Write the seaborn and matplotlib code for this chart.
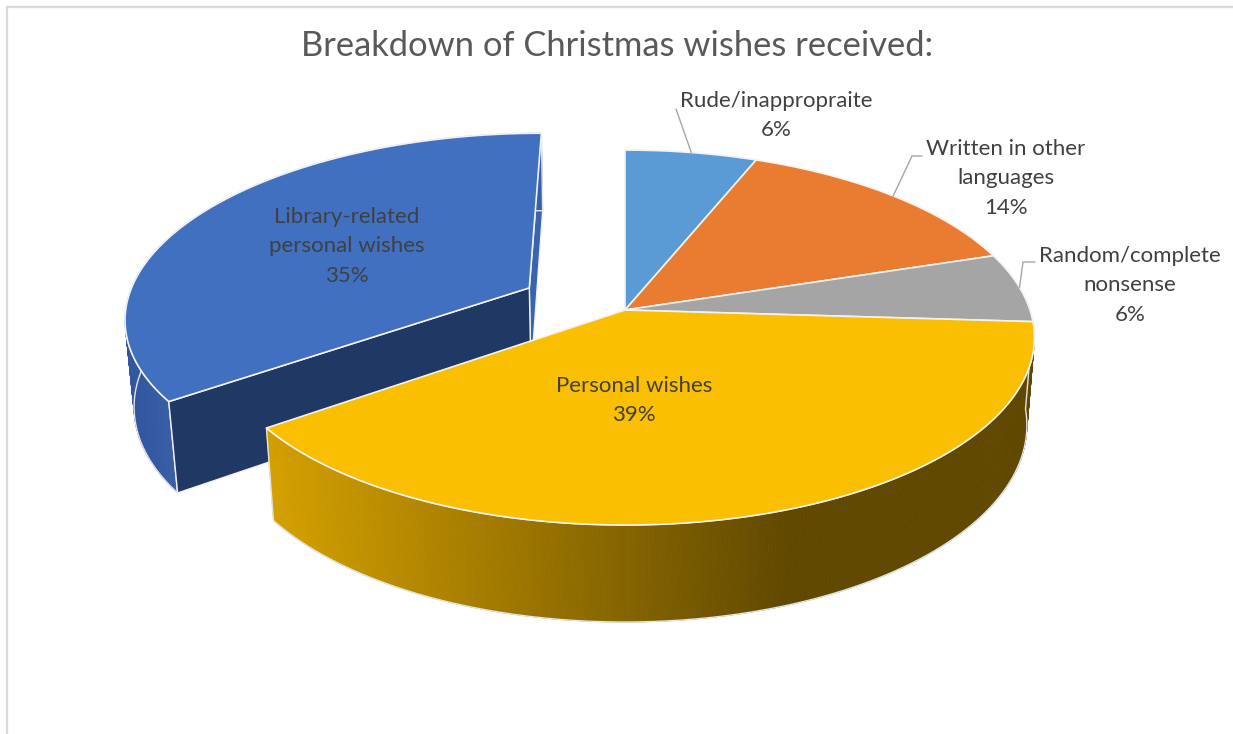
import numpy as np
import matplotlib
matplotlib.use("Agg")
import matplotlib.pyplot as plt
import seaborn as sns

# ---------------- data ----------------
title = "Breakdown of Christmas wishes received:"
categories = ["Rude/inappropraite", "Written in other languages",
              "Random/complete nonsense", "Personal wishes",
              "Library-related personal wishes"]
label_lines = [["Rude/inappropraite"], ["Written in other", "languages"],
               ["Random/complete", "nonsense"], ["Personal wishes"],
               ["Library-related", "personal wishes"]]
values = [6, 14, 6, 39, 35]
explode = [0, 0, 0, 0, 0.27]

# ---------------- style ----------------
sns.set_theme(style="white")
plt.rcParams["font.family"] = ["Lato", "DejaVu Sans"]
top_colors = sns.color_palette(["#5B9BD5", "#E97C30", "#A5A5A5", "#FABF00", "#4170C0"])
TEXT = "#404040"
EDGE = "#F2F2F2"

# label layout (pixel coords: centre x, first baseline y)
label_pos = [(776, 107), (1006, 155), (1130, 262), (634, 392), (347, 223)]
leader_elbow = [[(676, 109)], [(912, 156), (922, 156)], [(1023, 262), (1035, 262)], None, None]
LINE_H = 29.3

# ---------------- projection (3D pie seen from above, with perspective) ----------------
CX, CY = 625, 310
F, D = 2458.0, 6.07
S = 0.453
C = np.sqrt(1 - S * S)
H = 0.245


def proj(X, Y, Z):
    X = np.asarray(X, float)
    Y = np.asarray(Y, float)
    Z = np.asarray(Z, float)
    zc = D + Y * C - Z * S
    return CX + F * X / zc, CY - F * (Y * S + Z * C) / zc


def arc(ox, oy, a0, a1, z, n=240):
    t = np.deg2rad(np.linspace(a0, a1, n))
    return proj(ox + np.cos(t), oy + np.sin(t), np.full_like(t, z))


fig = plt.figure(figsize=(12.33, 7.34), dpi=100)
ax = fig.add_axes([0, 0, 1, 1])
ax.set_xlim(0, 1233)
ax.set_ylim(734, 0)
ax.axis("off")

# chart border (left & top visible)
ax.plot([7, 7, 1240], [740, 7, 7], color="#D9D9D9", lw=1.6, zorder=0, solid_joinstyle="miter")

total = float(sum(values))
starts, ends = [], []
acc = 0.0
for v in values:
    a0 = 90 - 360 * acc / total
    a1 = a0 - 360 * v / total
    starts.append(a0)
    ends.append(a1)
    acc += v
mids = [(a + b) / 2 for a, b in zip(starts, ends)]
offs = [(e * np.cos(np.deg2rad(m)), e * np.sin(np.deg2rad(m))) for e, m in zip(explode, mids)]


def top_face(i, z):
    ox, oy = offs[i]
    ax_, ay_ = proj(ox, oy, 0)
    xs, ys = arc(ox, oy, starts[i], ends[i], 0)
    ax.fill(np.r_[ax_, xs], np.r_[ay_, ys], facecolor=top_colors[i],
            edgecolor=EDGE, lw=1.2, zorder=z, joinstyle="round")


def cut_face(i, ang, color, z):
    ox, oy = offs[i]
    t = np.deg2rad(ang)
    px = [ox, ox + np.cos(t), ox + np.cos(t), ox]
    py = [oy, oy + np.sin(t), oy + np.sin(t), oy]
    pz = [0, 0, -H, -H]
    xs, ys = proj(px, py, pz)
    ax.fill(xs, ys, facecolor=color, edgecolor=EDGE, lw=1.0, zorder=z)


def outer_wall(i, a0, a1, color_fn, z, n=300):
    ox, oy = offs[i]
    tx, ty = arc(ox, oy, a0, a1, 0, n)
    bx, by = arc(ox, oy, a0, a1, -H, n)
    for k in range(n - 1):
        col = color_fn(0.5 * (tx[k] + tx[k + 1]))
        ax.fill([tx[k], tx[k + 1], bx[k + 1], bx[k]], [ty[k], ty[k + 1], by[k + 1], by[k]],
                facecolor=col, edgecolor=col, lw=0.6, zorder=z)
    ax.plot(np.r_[tx, bx[::-1], tx[0]], np.r_[ty, by[::-1], ty[0]], color="#E4E4E4", lw=1.0, zorder=z + 0.1)


# exploded library slice (index 4): runs clockwise from starts[4] (-144 deg) to ends[4] (-270 = 90 deg)
lib = 4
cut_face(lib, ends[lib], "#3B64B0", 1)          # thin back face at 90 deg
blue_wall = np.array([58, 95, 168]) / 255
blue_dark = np.array([50, 86, 158]) / 255


def blue(x):
    t = np.clip((x - 125) / (180 - 125), 0, 1)
    return tuple(blue_dark * (1 - t) + blue_wall * t)


outer_wall(lib, ends[lib] + 360, starts[lib] + 360, blue, 2)
cut_face(lib, starts[lib], "#203864", 3)        # dark front cut face
top_face(lib, 4)

# back slices
for i in range(3):
    top_face(i, 5)

# personal wishes slice with shaded wall
pw = 3
c_left = np.array([212, 160, 0]) / 255
c_dark = np.array([96, 72, 0]) / 255


def gold(x):
    t = np.clip((x - 270) / (790 - 270), 0, 1)
    return tuple(c_left * (1 - t) + c_dark * t)


outer_wall(pw, ends[pw], starts[pw], gold, 6)
top_face(pw, 7)

# ---------------- labels ----------------
for i in range(len(values)):
    lx, ly = label_pos[i]
    lines = label_lines[i] + [f"{values[i] / total * 100:.0f}%"]
    for j, ln in enumerate(lines):
        ax.text(lx, ly + j * LINE_H, ln, ha="center", va="baseline",
                fontsize=16, color=TEXT, zorder=10)
    if leader_elbow[i] is not None:
        ox, oy = offs[i]
        t = np.deg2rad(mids[i])
        sx, sy = proj(ox + np.cos(t), oy + np.sin(t), 0)
        pts = [(float(sx), float(sy))] + leader_elbow[i]
        ax.plot([p[0] for p in pts], [p[1] for p in pts], color="#A6A6A6", lw=1.0, zorder=9)

ax.text(617, 56, title, ha="center", va="baseline", fontsize=24.8, color="#595959", zorder=10)

fig.savefig("out.png", dpi=100)
